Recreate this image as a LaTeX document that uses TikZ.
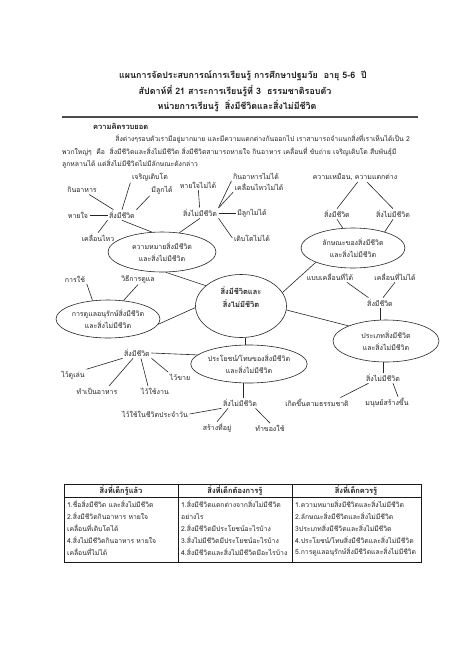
\documentclass[tikz,border=0pt]{standalone}
\usepackage{fontspec}
\setmainfont[Script=Thai]{Loma}
\usetikzlibrary{shapes.geometric}
\begin{document}
\begin{tikzpicture}[x=1pt,y=-1pt,
  lbl/.style={font=\fontsize{7}{8.5}\selectfont, inner sep=1.5pt, text=black!85},
  hdr/.style={font=\bfseries\fontsize{8.9}{10}\selectfont, inner sep=0pt, text=black!90},
  partext/.style={font=\fontsize{6.8}{8}\selectfont, inner sep=0pt, anchor=west, text=black!85},
  ell/.style={draw=black!85, line width=0.6pt, ellipse, inner sep=0pt, align=center, font=\fontsize{7}{12}\selectfont, text=black!85},
  ln/.style={draw=black!85, line width=0.6pt},
  tbl/.style={draw=black!90, line width=0.7pt},
  thd/.style={font=\bfseries\fontsize{7.5}{9}\selectfont, inner sep=0pt, text=black!90},
  tcell/.style={font=\fontsize{6.8}{8}\selectfont, inner sep=0pt, anchor=west, text=black!85}
]
\useasboundingbox[fill=white] (0,0) rectangle (474,670);

% header
\node[hdr] (t1) at (243,76) {แผนการจัดประสบการณ์การเรียนรู้ การศึกษาปฐมวัย\ \ อายุ 5-6\ \ ปี};
\node[hdr] (t2) at (235,91) {สัปดาห์ที่ 21 สาระการเรียนรู้ที่ 3\ \ ธรรมชาติรอบตัว};
\node[hdr] (t3) at (237,106) {หน่วยการเรียนรู้\ \ สิ่งมีชีวิตและสิ่งไม่มีชีวิต};
\draw[draw=black!70, line width=1.5pt] (62,117) -- (418,117);

\node[hdr, anchor=west, font=\bfseries\fontsize{7.5}{9}\selectfont] (kk) at (93,126) {ความคิดรวบยอด};
\node[partext, anchor=east] (p1) at (410,139) {สิ่งต่างๆรอบตัวเรามีอยู่มากมาย และมีความแตกต่างกันออกไป เราสามารถจำแนกสิ่งที่เราเห็นได้เป็น 2};
\node[partext] (p2) at (62,151.5) {พวกใหญ่ๆ\ \ คือ\ \ สิ่งมีชีวิตและสิ่งไม่มีชีวิต สิ่งมีชีวิตสามารถหายใจ กินอาหาร เคลื่อนที่ ขับถ่าย เจริญเติบโต สืบพันธุ์มี};
\node[partext] (p3) at (62,163.5) {ลูกหลานได้ แต่สิ่งไม่มีชีวิตไม่มีลักษณะดังกล่าว};

% top-left cluster
\node[lbl] (A1) at (122,215) {สิ่งมีชีวิต};
\node[lbl] (A2) at (82,190) {กินอาหาร};
\node[lbl] (A3) at (150,177) {เจริญเติบโต};
\node[lbl] (A4) at (162,190) {มีลูกได้};
\node[lbl] (A5) at (78,215) {หายใจ};
\node[lbl] (A6) at (98,238) {เคลื่อนไหว};
\node[ell, minimum width=108pt, minimum height=40pt] (E1) at (162,252) {ความหมายสิ่งมีชีวิต\\และสิ่งไม่มีชีวิต};
\draw[ln] (A2) -- (A1);
\draw[ln] (A3.south west) -- (A1.north);
\draw[ln] (A4.south west) -- (A1.north east);
\draw[ln] (A5) -- (A1);
\draw[ln] (A6.north) -- (A1.south west);
\draw[ln] (A1.south) -- (E1.117);

% top-middle cluster
\node[lbl] (B1) at (200,213) {สิ่งไม่มีชีวิต};
\node[lbl] (B2) at (198,185) {หายใจไม่ได้};
\node[lbl] (B3) at (256,176) {กินอาหารไม่ได้};
\node[lbl] (B4) at (259,187) {เคลื่อนไหวไม่ได้};
\node[lbl] (B5) at (252,213) {มีลูกไม่ได้};
\node[lbl] (B6) at (252,238) {เติบโตไม่ได้};
\draw[ln] (B2) -- (B1);
\draw[ln] (B1.north east) -- (B3.south west);
\draw[ln] (B1.15) -- (B4.south west);
\draw[ln] (B1) -- (B5);
\draw[ln] (B1.south east) -- (B6.west);
\draw[ln] (B1.south) -- (E1.48);

% top-right cluster
\node[lbl] (C0) at (355,177) {ความเหมือน, ความแตกต่าง};
\node[lbl] (C1) at (337,214) {สิ่งมีชีวิต};
\node[lbl] (C2) at (393,214) {สิ่งไม่มีชีวิต};
\node[ell, minimum width=104pt, minimum height=40pt] (E2) at (353,248) {ลักษณะของสิ่งมีชีวิต\\และสิ่งไม่มีชีวิต};
\draw[ln] (C0.-63) -- (C1.north);
\draw[ln] (C0.-23) -- (C2.north);
\draw[ln] (C1.south) -- (E2.117);
\draw[ln] (C2.south) -- (E2.27);

% centre
\node[ell, minimum width=91pt, minimum height=63pt, font=\bfseries\fontsize{7.5}{13}\selectfont] (E0) at (241,306) {สิ่งมีชีวิตและ\\สิ่งไม่มีชีวิต\\[4pt]};
\node[ell, minimum width=104pt, minimum height=38pt] (E4) at (108,319) {การดูแลอนุรักษ์สิ่งมีชีวิต\\และสิ่งไม่มีชีวิต};
\node[ell, minimum width=106pt, minimum height=42pt] (E3) at (386,341) {ประเภทสิ่งมีชีวิต\\และสิ่งไม่มีชีวิต};
\node[ell, minimum width=116pt, minimum height=38pt] (E5) at (249,364) {ประโยชน์/โทษของสิ่งมีชีวิต\\และสิ่งไม่มีชีวิต};
\draw[ln] (E0.150) -- (E1.-80);
\draw[ln] (E0.18) -- (E2.201);
\draw[ln] (E0.-5) -- (E3.158);
\draw[ln] (E0.182) -- (E4.-6);
\draw[ln] ([xshift=4pt]E0.south) -- ([xshift=4pt]E0.south |- E5.north);

% left-middle
\node[lbl] (D1) at (75,279) {การใช้};
\node[lbl] (D2) at (138,279) {วิธีการดูแล};
\draw[ln] (D1.south east) -- (E4.130);
\draw[ln] (D2.south) -- (E4.50);

% lower-left
\node[lbl] (F1) at (137,353) {สิ่งมีชีวิต};
\node[lbl] (F2) at (73,375) {ไว้ดูเล่น};
\node[lbl] (F3) at (97,391) {ทำเป็นอาหาร};
\node[lbl] (F4) at (155,391) {ไว้ใช้งาน};
\node[lbl] (F5) at (180,377) {ไว้ขาย};
\draw[ln] (F1.south west) -- (F2.north east);
\draw[ln] ([xshift=-4pt]F1.south) -- ([xshift=-10pt]F3.north east);
\draw[ln] ([xshift=4pt]F1.south) -- ([xshift=-7pt]F4.north);
\draw[ln] (F1.south east) -- (F5.north west);
\draw[ln] (F1.east) -- (E5.170);

% below benefit ellipse
\node[lbl] (G1) at (240,403) {สิ่งไม่มีชีวิต};
\node[lbl] (G2) at (155,414) {ไว้ใช้ในชีวิตประจำวัน};
\node[lbl] (G3) at (217,428) {สร้างที่อยู่};
\node[lbl] (G4) at (270,428) {ทำของใช้};
\draw[ln] ([xshift=3pt]G1.north |- E5.south) -- ([xshift=3pt]G1.north);
\draw[ln] (G2.east) -- (G1.south west);
\draw[ln] ([xshift=-12pt]G1.south) -- (G3.north);
\draw[ln] ([xshift=-3pt]G1.south east) -- (G4.north);

% right-middle
\node[lbl] (H1) at (330,277) {แบบเคลื่อนที่ได้};
\node[lbl] (H2) at (395,277) {เคลื่อนที่ไม่ได้};
\node[lbl] (H3) at (380,303) {สิ่งมีชีวิต};
\draw[ln] ([xshift=-8pt]H1.south east) -- ([xshift=3pt]H3.north west);
\draw[ln] (H2.south) -- ([xshift=3pt]H3.north);
\draw[ln] (H3.south) -- (H3.south |- E3.north);

\node[lbl] (I1) at (383,378) {สิ่งไม่มีชีวิต};
\node[lbl] (I2) at (317,403) {เกิดขึ้นตามธรรมชาติ};
\node[lbl] (I3) at (387,403) {มนุษย์สร้างขึ้น};
\draw[ln] (I1.north |- E3.south) -- (I1.north);
\draw[ln] ([xshift=4pt]I1.south west) -- ([xshift=-10pt]I2.north east);
\draw[ln] ([xshift=10pt]I1.south) -- ([xshift=11pt]I3.north);

% table
\draw[tbl] (64,484) rectangle (421,562);
\draw[tbl] (64,497) -- (421,497);
\draw[tbl] (178,484) -- (178,562);
\draw[tbl] (292,484) -- (292,562);
\node[thd] (h1) at (121,490.5) {สิ่งที่เด็กรู้แล้ว};
\node[thd] (h2) at (235,490.5) {สิ่งที่เด็กต้องการรู้};
\node[thd] (h3) at (356,490.5) {สิ่งที่เด็กควรรู้};

\node[tcell] (a1) at (67,504) {1.ชื่อสิ่งมีชีวิต และสิ่งไม่มีชีวิต};
\node[tcell] (a2) at (67,516) {2.สิ่งมีชีวิตกินอาหาร หายใจ};
\node[tcell] (a3) at (67,528) {เคลื่อนที่เติบโตได้};
\node[tcell] (a4) at (67,540) {4.สิ่งไม่มีชีวิตกินอาหาร หายใจ};
\node[tcell] (a5) at (67,552) {เคลื่อนที่ไม่ได้};

\node[tcell] (b1) at (181,504) {1.สิ่งมีชีวิตแตกต่างจากสิ่งไม่มีชีวิต};
\node[tcell] (b2) at (181,516) {อย่างไร};
\node[tcell] (b3) at (181,528) {2.สิ่งมีชีวิตมีประโยชน์อะไรบ้าง};
\node[tcell] (b4) at (181,540) {3.สิ่งไม่มีชีวิตมีประโยชน์อะไรบ้าง};
\node[tcell] (b5) at (181,552) {4.สิ่งมีชีวิตและสิ่งไม่มีชีวิตมีอะไรบ้าง};

\node[tcell] (c1) at (295,504) {1.ความหมายสิ่งมีชีวิตและสิ่งไม่มีชีวิต};
\node[tcell] (c2) at (295,516) {2.ลักษณะสิ่งมีชีวิตและสิ่งไม่มีชีวิต};
\node[tcell] (c3) at (295,528) {3ประเภทสิ่งมีชีวิตและสิ่งไม่มีชีวิต};
\node[tcell] (c4) at (295,540) {4.ประโยชน์/โทษสิ่งมีชีวิตและสิ่งไม่มีชีวิต};
\node[tcell] (c5) at (295,552) {5.การดูแลอนุรักษ์สิ่งมีชีวิตและสิ่งไม่มีชีวิต};
\end{tikzpicture}
\end{document}
